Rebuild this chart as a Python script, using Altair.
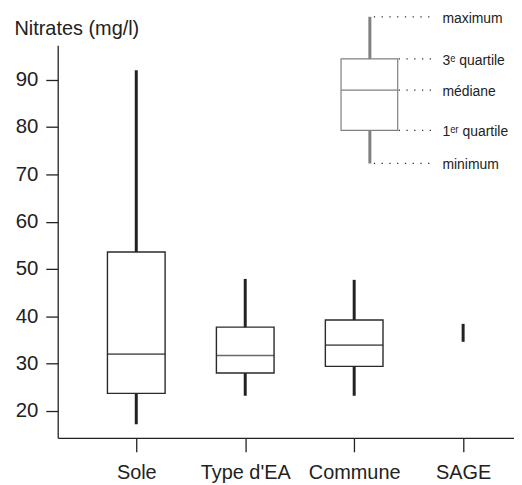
import altair as alt
import pandas as pd

categories = ["Sole", "Type d'EA", "Commune", "SAGE"]
minimum = [17.2, 23.2, 23.2, 34.6]
quartile1 = [23.7, 28.0, 29.4, None]
median = [32.0, 31.7, 33.9, None]
quartile3 = [53.6, 37.7, 39.2, None]
maximum = [92.0, 47.9, 47.7, 38.4]
y_ticks = [20, 30, 40, 50, 60, 70, 80, 90]

legend_keys = ["min", "q1", "med", "q3", "max"]
legend_labels = ["minimum", "1ᵉʳ quartile", "médiane", "3ᵉ quartile", "maximum"]
legend_values = [72.3, 79.3, 87.8, 94.4, 103.3]

df = pd.DataFrame(dict(cat=categories, lo=minimum, q1=quartile1, med=median,
                       q3=quartile3, hi=maximum))
leg = pd.DataFrame(dict(key=legend_keys, label=legend_labels, v=legend_values))
leg_wide = pd.DataFrame([dict(zip(legend_keys, legend_values))])

FONT = "Liberation Sans"
DARK = "#222222"
GREY = "#808080"

yscale = alt.Scale(domain=[14.3, 97.3], nice=False, zero=False)
yaxis = alt.Axis(values=y_ticks, title="Nitrates (mg/l)", titleAngle=0,
                 titleAlign="left", titleBaseline="middle", titleX=-44, titleY=-17,
                 titleFontWeight="normal", titleFontSize=20, titleFont=FONT,
                 titleColor=DARK, labelFont=FONT, labelFontSize=20.5, labelColor=DARK,
                 labelPadding=8, tickSize=12, grid=False)
xenc = alt.X("cat:N", sort=categories,
             scale=alt.Scale(type="point", padding=0.594, align=0.607),
             axis=alt.Axis(title=None, labelAngle=0, labelFont=FONT, labelFontSize=20,
                           labelColor=DARK, tickSize=14, labelPadding=11, grid=False))


def Y(field):
    return alt.Y(field, scale=yscale, axis=yaxis)


base = alt.Chart(df)
whisk = base.mark_rule(strokeWidth=3, color=DARK).encode(
    x=xenc, y=Y("lo:Q"), y2="hi:Q")
box = base.transform_filter("isValid(datum.q1)").mark_bar(
    size=58, fill="white", stroke="#2a2a2a", strokeWidth=1.4).encode(
    x=xenc, y=Y("q1:Q"), y2="q3:Q")
med = base.transform_filter("isValid(datum.med)").mark_tick(
    size=58, thickness=1.6, color="#2a2a2a").encode(
    x=xenc, y=Y("med:Q"))

lw = alt.Chart(leg_wide)
l_whisk = lw.mark_rule(strokeWidth=3, color=GREY).encode(
    x=alt.value(314), y=Y("min:Q"), y2="max:Q")
l_box = lw.mark_rect(fill="white", stroke=GREY, strokeWidth=1.2).encode(
    x=alt.value(285), x2=alt.value(342), y=Y("q1:Q"), y2="q3:Q")
l_med = lw.mark_rule(strokeWidth=1.2, color=GREY).encode(
    x=alt.value(285), x2=alt.value(342), y=Y("med:Q"))

lc = alt.Chart(leg)
l_dots_box = lc.transform_filter("indexof(['q1','med','q3'], datum.key) >= 0").mark_rule(
    strokeWidth=1.2, strokeDash=[1.3, 6.5], color="#333333").encode(
    x=alt.value(343), x2=alt.value(378), y=Y("v:Q"))
l_dots_end = lc.transform_filter("indexof(['min','max'], datum.key) >= 0").mark_rule(
    strokeWidth=1.2, strokeDash=[1.3, 6.5], color="#333333").encode(
    x=alt.value(318), x2=alt.value(378), y=Y("v:Q"))
l_text = lc.mark_text(align="left", baseline="middle", font=FONT, fontSize=14,
                      color=DARK, dy=2).encode(
    x=alt.value(387), y=Y("v:Q"), text="label:N")

chart = alt.layer(whisk, box, med, l_whisk, l_box, l_med, l_dots_box, l_dots_end,
                  l_text).properties(
    width=459, height=395, autosize=alt.AutoSizeParams(type="none"),
    padding={"left": 50, "top": 36, "right": 0, "bottom": 45},
).configure_view(stroke=None).configure_axis(
    domainColor=DARK, domainWidth=1.3, tickColor=DARK, tickWidth=1.3)

chart.save("out.html", embed_options={"renderer": "svg", "actions": False})
